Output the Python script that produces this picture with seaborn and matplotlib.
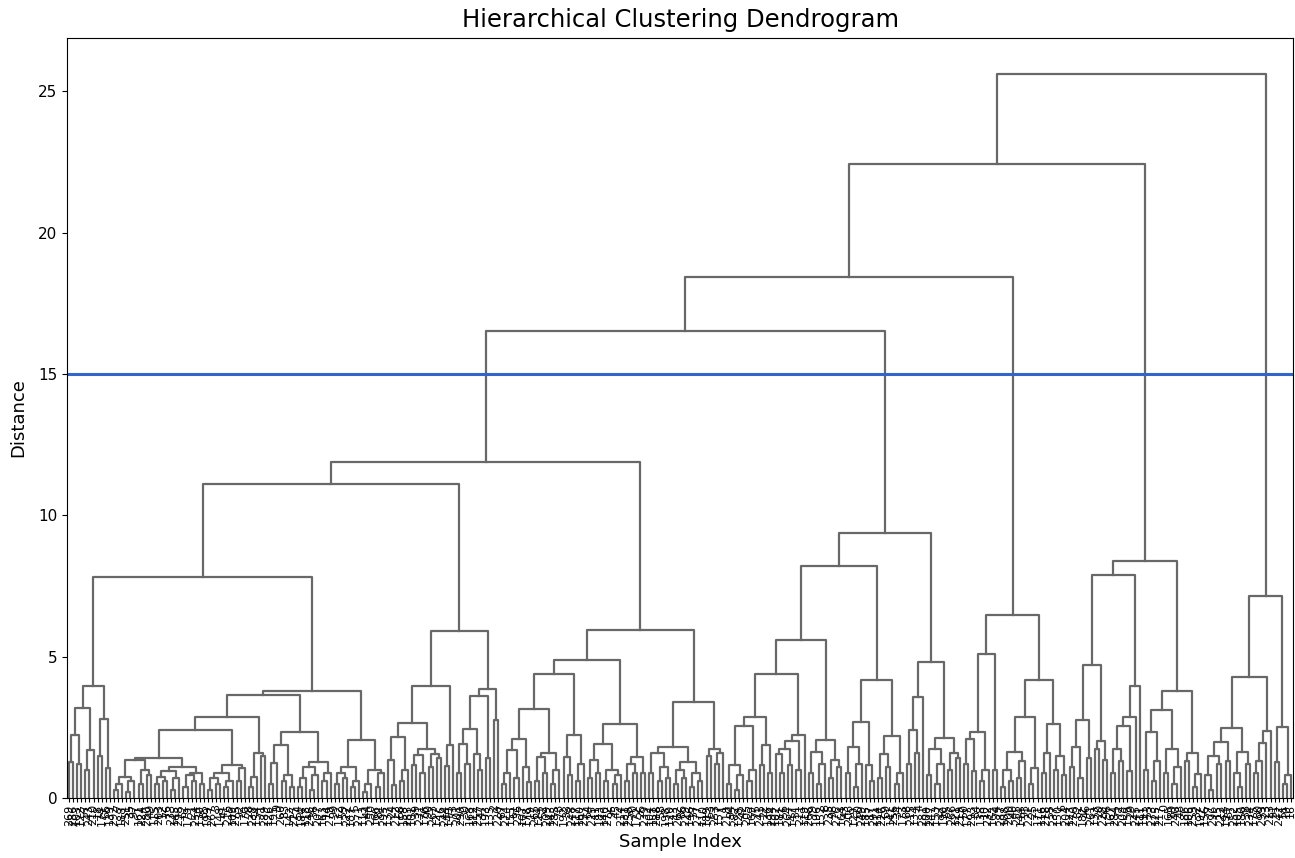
import re
import numpy as np
import pandas as pd
import matplotlib
matplotlib.use("Agg")
import matplotlib.pyplot as plt
import seaborn as sns

# ---------------- data: merge tree (Newick-like, "x" = one sample, number = merge distance)
A = "((((x,x)1.28,(x,x)1.2)2.23,((x,x)1.0,x)1.7)3.17,((x,x)1.47,(x,x)1.06)2.78)3.97"
BPL = "((((x,x)0.3,x)0.5,((x,x)0.2,x)0.6)0.75,((x,x)0.5,(x,x)0.8)0.99)1.34"
BPR = "((((x,x)0.5,(x,x)0.6)0.75,((x,x)0.3,x)0.7)0.95,(((x,x)0.4,(x,x)0.6)0.8,(x,x)0.5)0.9)1.1"
BQL = "(((x,x)0.3,(x,x)0.5)0.7,((x,x)0.4,x)0.6)0.87"
BQR = "((x,x)0.6,x)1.05"
B1AR = "(((x,x)0.4,x)0.75,(x,x)1.5)1.6"
B1BL = "(((x,x)0.5,x)1.23,((x,x)0.6,(x,x)0.4)0.81)1.87"
B1BR = "((((x,x)0.4,x)0.7,((x,x)0.3,x)0.8)1.1,((x,x)0.6,x)0.9)1.28"
B2L = "(((x,x)0.5,(x,x)0.7)0.9,((x,x)0.4,x)0.6)1.1"
B2R = "(((x,x)0.2,x)0.5,((x,x)0.4,x)0.9)1.0"
B = "(((((BPL,BPR)1.43,(BQL,BQR)1.17)2.4,B1AR)2.87,(B1BL,B1BR)2.33)3.64,(B2L,B2R)2.05)3.78"
C1L = "(((x,(x,x)0.45)1.34,((x,x)0.6,x)0.99)2.17,(((x,x)1.16,(x,x)0.9)1.51,((x,x)1.1,(x,x)1.4)1.55)1.75)2.65"
C1 = "(C1L,((x,x)1.13,x)1.87)3.96"
C2 = "(((((x,x)0.9,(x,x)1.2)1.9,(x,(x,x)1.0)1.55)2.45,(x,x)1.4)3.6,(x,x)2.75)3.85"
D1LAL = "((((x,x)0.5,x)0.87,(x,x)0.7)1.7,(x,(x,x)0.55)1.1)2.1"
D1LAR = "(((x,x)0.6,(x,x)0.9)1.46,((x,x)0.5,x)0.99)1.58"
D1LB = "((x,(x,x)0.8)1.46,((x,x)0.6,x)1.2)2.23"
D1RA = "(((x,x)0.7,(x,x)0.9)1.34,((x,x)0.6,((x,x)0.5,x)0.8)1.0)1.9"
D1RB = "(((x,x)0.6,(x,x)0.9)1.2,(x,x)0.9)1.46"
D1 = "(((D1LAL,D1LAR)3.14,D1LB)4.4,(D1RA,D1RB)2.6)4.88"
D2 = ("((((x,x)0.87,((x,x)0.6,(x,x)0.7)1.1)1.58,(((x,x)0.5,(x,x)0.7)1.0,"
      "((x,x)0.4,(x,x)0.6)0.87)1.27)1.81,((x,x)1.5,((x,x)1.2,x)1.6)1.75)3.4")
E1AL = "((((x,x)0.5,((x,x)0.3,x)0.8)1.17,((x,x)0.6,x)1.0)2.54,((x,x)1.17,(x,x)0.9)1.87)2.87"
E1AR = "((((x,(x,x)0.9)1.55,(x,x)1.17)1.73,(x,x)1.0)2.0,x)2.22"
E1B = "(((x,x)0.9,((x,x)0.5,x)1.2)1.63,((x,x)0.7,(x,x)1.1)1.34)2.05"
E1 = "((E1AL,E1AR)4.4,E1B)5.58"
E2 = "((((x,x)0.9,((x,x)0.4,x)1.2)1.79,(x,(x,x)0.6)1.17)2.7,(((x,x)0.7,(x,x)1.1)1.55,((x,x)0.5,x)0.9)2.19)4.17"
E3 = "((((x,x)1.2,(x,x)1.6)2.4,x)3.58,(((x,x)0.8,((x,x)0.5,x)1.2)1.75,((x,x)1.0,(x,x)1.4)1.6)2.12)4.82"
F1 = "((((x,x)1.2,(x,x)0.95)2.1,((x,x)0.6,x)1.0)2.34,(x,x)1.0)5.11"
F2 = ("(((((x,x)0.4,(x,x)0.6)1.0,((x,x)0.7,x)1.3)1.63,((x,x)0.5,x)1.06)2.85,"
      "(((x,x)0.9,x)1.6,((x,x)1.0,(x,x)0.8)1.48)2.61)4.17")
G1 = "((((x,x)1.1,(x,x)0.7)1.8,(x,x)1.4)2.76,((x,x)1.72,(x,x)1.34)2.03)4.7"
G2 = "(((((x,x)0.9,(x,x)1.3)1.74,(x,x)0.95)2.54,x)2.85,x)3.97"
G3 = "((((x,x)1.0,((x,x)0.6,x)1.3)2.34,((x,x)0.9,((x,x)0.5,x)1.1)1.74)3.1,((x,x)1.3,((x,x)0.4,x)0.84)1.6)3.78"
H1 = ("(((((x,(x,x)0.3)0.8,(x,x)1.2)1.5,(x,x)1.3)1.98,((x,(x,x)0.4)0.9,(x,x)1.2)1.63)2.46,"
      "((((x,x)0.9,x)1.3,x)1.93,x)2.38)4.29")
H2 = "((x,x)1.28,((x,x)0.5,x)0.82)2.52"
TOP = ("(((((((A,B)7.8,(C1,C2)5.9)11.1,(D1,D2)5.95)11.88,((E1,E2)8.21,E3)9.39)16.5,"
       "(F1,F2)6.47)18.42,((G1,G2)7.9,G3)8.37)22.42,(H1,H2)7.14)25.6")

LEAF_LABELS = [
    269, 286, 103, 122, 57, 243, 210, 18, 174, 66, 139, 292, 7, 188, 251, 35, 97, 161, 224, 280, 49, 115, 203, 12, 76, 233, 145, 298, 62, 179,
    21, 254, 130, 85, 199, 267, 3, 148, 41, 216, 109, 275, 92, 170, 28, 238, 154, 71, 289, 126, 195, 9, 260, 83, 142, 227, 54, 184, 118, 246,
    36, 207, 163, 14, 279, 99, 132, 59, 222, 187, 5, 271, 113, 44, 250, 166, 81, 295, 137, 24, 212, 68, 158, 283, 101, 39, 231, 176, 90, 263,
    127, 16, 244, 149, 73, 201, 290, 30, 168, 112, 257, 47, 193, 135, 2, 220, 87, 274, 155, 61, 236, 107, 178, 19, 265, 124, 52, 209, 143, 285,
    78, 192, 33, 248, 117, 160, 297, 64, 225, 11, 183, 140, 272, 95, 45, 214, 131, 258, 70, 172, 26, 239, 104, 151, 288, 58, 198, 120, 13, 262,
    86, 229, 146, 37, 277, 110, 189, 63, 253, 157, 1, 218, 94, 282, 128, 42, 205, 169, 75, 241, 22, 136, 294, 102, 181, 56, 264, 147, 31, 211,
    119, 268, 79, 196, 152, 8, 235, 98, 276, 164, 43, 206, 129, 60, 249, 185, 17, 291, 114, 226, 69, 141, 256, 34, 173, 88, 215, 134, 4, 281,
    100, 247, 153, 27, 190, 65, 266, 121, 219, 50, 177, 293, 84, 138, 10, 232, 162, 74, 287, 108, 200, 40, 255, 144, 93, 221, 25, 171, 116, 278,
    55, 237, 150, 6, 204, 123, 270, 82, 182, 46, 261, 133, 20, 228, 96, 167, 284, 72, 208, 159, 29, 245, 111, 191, 53, 273, 125, 217, 0, 165,
    89, 240, 48, 186, 106, 259, 32, 197, 156, 77, 296, 15, 223, 194, 67, 252, 105, 180, 38, 234, 175, 80, 299, 23, 213, 91, 242, 51, 10, 16,
]
THRESHOLD = 15.0

PARTS = dict(A=A, B=B, BPL=BPL, BPR=BPR, BQL=BQL, BQR=BQR, B1AR=B1AR, B1BL=B1BL,
             B1BR=B1BR, B2L=B2L, B2R=B2R, C1=C1, C1L=C1L, C2=C2, D1=D1, D1LAL=D1LAL,
             D1LAR=D1LAR, D1LB=D1LB, D1RA=D1RA, D1RB=D1RB, D2=D2, E1=E1, E1AL=E1AL,
             E1AR=E1AR, E1B=E1B, E2=E2, E3=E3, F1=F1, F2=F2, G1=G1, G2=G2, G3=G3,
             H1=H1, H2=H2)

TOKEN = re.compile(r"\(|\)|,|[A-Za-z_]\w*|\d+(?:\.\d+)?")


def parse(text):
    toks = TOKEN.findall(text)
    pos = 0

    def node():
        nonlocal pos
        t = toks[pos]
        pos += 1
        if t == "(":
            left = node()
            pos += 1  # ','
            right = node()
            pos += 1  # ')'
            h = float(toks[pos])
            pos += 1
            return (left, right, h)
        if t == "x":
            return "x"
        return parse(PARTS[t])

    return node()


tree = parse(TOP)

# ---------------- dendrogram coordinates (scipy convention: leaves at 5 + 10 i)
rows = []
counter = [0]


def walk(n):
    if n == "x":
        i = counter[0]
        counter[0] += 1
        return 5.0 + 10.0 * i, 0.0
    left, right, h = n
    xl, hl = walk(left)
    xr, hr = walk(right)
    k = len(rows) // 4
    for j, (xx, yy) in enumerate([(xl, hl), (xl, h), (xr, h), (xr, hr)]):
        rows.append({"link": k, "order": j, "x": xx, "y": yy})
    return (xl + xr) / 2.0, h


walk(tree)
n_leaves = counter[0]
df = pd.DataFrame(rows)

# ---------------- plot
fig = plt.figure(figsize=(12.95, 8.58), dpi=100)
ax = fig.add_axes([67 / 1295, 60 / 858, 1226 / 1295, 760 / 858])

sns.lineplot(data=df, x="x", y="y", units="link", estimator=None, sort=False,
             color="#686868", linewidth=1.6, ax=ax, legend=False)
ax.axhline(THRESHOLD, color="#3366cc", linewidth=2.2)

ax.set_xlim(0, 10 * n_leaves)
ax.set_ylim(0, 25.6 * 1.05)
ax.set_xticks(5 + 10 * np.arange(n_leaves))
ax.set_xticklabels([str(v) for v in LEAF_LABELS[:n_leaves]], rotation=90, fontsize=8)
ax.set_yticks([0, 5, 10, 15, 20, 25])
ax.tick_params(axis="y", labelsize=11)
ax.tick_params(axis="x", pad=1.5, length=3)

ax.set_title("Hierarchical Clustering Dendrogram", fontsize=17.5, pad=8)
ax.set_xlabel("Sample Index", fontsize=13, labelpad=5)
ax.set_ylabel("Distance", fontsize=13, labelpad=8)

fig.savefig("out.png", dpi=100)
